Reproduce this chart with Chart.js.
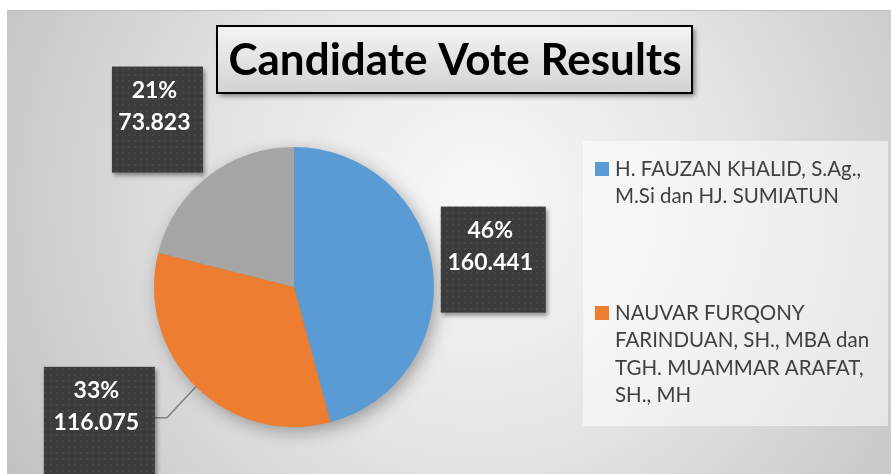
<!DOCTYPE html>
<html>
<head>
  <meta charset="utf-8">
  <title>Candidate Vote Results</title>
  <script src="https://cdn.jsdelivr.net/npm/chart.js"></script>
  <style>
    body { margin: 0; background: #fff; }
    #wrap { width: 891px; height: 474px; }
  </style>
</head>
<body>
  <div id="wrap"><canvas id="voteChart" width="891" height="474"></canvas></div>

  <script>
    // --- data ---
    const candidates = [
      ['H. FAUZAN KHALID, S.Ag.,', 'M.Si dan HJ. SUMIATUN'],
      ['NAUVAR FURQONY', 'FARINDUAN, SH., MBA dan', 'TGH. MUAMMAR ARAFAT,', 'SH., MH'],
      ['']
    ];
    const votes = [160441, 116075, 73823];
    const sliceColors = ['#5B9BD5', '#ED7D31', '#A5A5A5'];
    const chartTitle = 'Candidate Vote Results';
    const legendShown = 2; // third entry is cut off in the original

    // label boxes, placed relative to the middle of each slice's outer edge
    const boxLayout = [
      { dx: 8,    dy: -62,  w: 105, h: 106 },
      { dx: -152, dy: -20,  w: 111, h: 110, leader: true },
      { dx: -96,  dy: -110, w: 91,  h: 106 }
    ];

    const FONT = 'Lato, "Open Sans", sans-serif';
    const total = votes.reduce((a, b) => a + b, 0);

    // 160441 -> "160.441"
    function fmt(n) {
      return String(n).replace(/\B(?=(\d{3})+(?!\d))/g, '.');
    }

    // small dotted texture for the dark label boxes
    function dotPattern(ctx) {
      const tile = document.createElement('canvas');
      tile.width = 6; tile.height = 6;
      const t = tile.getContext('2d');
      t.fillStyle = '#3c3c3c';
      t.fillRect(0, 0, 6, 6);
      t.fillStyle = '#474747';
      t.fillRect(2, 2, 2, 2);
      return ctx.createPattern(tile, 'repeat');
    }

    // background, legend panel and pie shadow
    const backdrop = {
      id: 'backdrop',
      beforeDraw(chart) {
        const { ctx, width, height } = chart;
        ctx.save();
        ctx.fillStyle = '#fff';
        ctx.fillRect(0, 0, width, height);
        const g = ctx.createRadialGradient(480, 200, 0, 480, 200, 560);
        g.addColorStop(0, '#f8f8f8');
        g.addColorStop(0.45, '#e4e4e4');
        g.addColorStop(1, '#c0c0c0');
        ctx.fillStyle = g;
        ctx.fillRect(7, 10, width - 7, height - 10);
        ctx.fillStyle = '#bdbdbd';
        ctx.fillRect(7, 10, width - 7, 1);
        // legend panel
        ctx.fillStyle = 'rgba(255,255,255,0.5)';
        ctx.fillRect(583, 141, 305, 285);
        ctx.restore();
      },
      beforeDatasetsDraw(chart) {
        const arc = chart.getDatasetMeta(0).data[0];
        const { ctx } = chart;
        ctx.save();
        ctx.shadowColor = 'rgba(0,0,0,0.35)';
        ctx.shadowBlur = 18;
        ctx.shadowOffsetX = 4;
        ctx.shadowOffsetY = 5;
        ctx.fillStyle = '#888';
        ctx.beginPath();
        ctx.arc(arc.x, arc.y, arc.outerRadius - 1, 0, Math.PI * 2);
        ctx.fill();
        ctx.restore();
      }
    };

    // title box, data label boxes and the legend
    const overlay = {
      id: 'overlay',
      afterDraw(chart) {
        const { ctx } = chart;
        const meta = chart.getDatasetMeta(0);
        ctx.save();

        // title
        ctx.save();
        ctx.shadowColor = 'rgba(0,0,0,0.45)';
        ctx.shadowBlur = 5;
        ctx.shadowOffsetX = 3;
        ctx.shadowOffsetY = 3;
        const tg = ctx.createLinearGradient(0, 26, 0, 93);
        tg.addColorStop(0, '#f4f4f4');
        tg.addColorStop(1, '#d2d2d2');
        ctx.fillStyle = tg;
        ctx.fillRect(217, 26, 475, 67);
        ctx.restore();
        ctx.strokeStyle = '#000';
        ctx.lineWidth = 2;
        ctx.strokeRect(217, 26, 475, 67);
        ctx.fillStyle = '#000';
        ctx.font = 'bold 44px ' + FONT;
        ctx.textAlign = 'center';
        ctx.textBaseline = 'middle';
        ctx.fillText(chartTitle, 455, 61);

        // data labels
        const pat = dotPattern(ctx);
        meta.data.forEach((arc, i) => {
          const mid = (arc.startAngle + arc.endAngle) / 2;
          const mx = arc.x + Math.cos(mid) * arc.outerRadius;
          const my = arc.y + Math.sin(mid) * arc.outerRadius;
          const b = boxLayout[i];
          const bx = mx + b.dx, by = my + b.dy;

          if (b.leader) {
            ctx.strokeStyle = '#7f7f7f';
            ctx.lineWidth = 1.5;
            ctx.beginPath();
            ctx.moveTo(mx, my);
            ctx.lineTo(mx - 29, my + 31);
            ctx.lineTo(bx + b.w, my + 31);
            ctx.stroke();
          }

          ctx.save();
          ctx.shadowColor = 'rgba(0,0,0,0.4)';
          ctx.shadowBlur = 4;
          ctx.shadowOffsetX = 2;
          ctx.shadowOffsetY = 3;
          ctx.fillStyle = pat;
          ctx.fillRect(bx, by, b.w, b.h);
          ctx.restore();

          const pct = Math.round(votes[i] / total * 100) + '%';
          ctx.fillStyle = '#fff';
          ctx.font = 'bold 23px ' + FONT;
          ctx.textAlign = 'center';
          ctx.textBaseline = 'middle';
          ctx.fillText(pct, bx + b.w / 2 - 3, by + 24);
          ctx.fillText(fmt(votes[i]), bx + b.w / 2 - 3, by + 56);
        });

        // legend
        const itemTop = [169, 313];
        ctx.font = '20.5px ' + FONT;
        ctx.textAlign = 'left';
        ctx.textBaseline = 'middle';
        for (let i = 0; i < legendShown; i++) {
          ctx.fillStyle = sliceColors[i];
          ctx.fillRect(595, itemTop[i] - 7, 14, 14);
          ctx.fillStyle = '#404040';
          candidates[i].forEach((line, k) => {
            ctx.fillText(line, 615, itemTop[i] + k * 27.5);
          });
        }
        ctx.restore();
      }
    };

    const ctx = document.getElementById('voteChart').getContext('2d');
    new Chart(ctx, {
      type: 'pie',
      data: {
        labels: candidates,
        datasets: [{
          data: votes,
          backgroundColor: sliceColors,
          borderWidth: 0,
          hoverOffset: 0
        }]
      },
      options: {
        responsive: false,
        animation: false,
        layout: { padding: { left: 154, right: 457, top: 147, bottom: 47 } },
        plugins: {
          legend: { display: false },
          tooltip: { enabled: false }
        }
      },
      plugins: [backdrop, overlay]
    });
  </script>
</body>
</html>
